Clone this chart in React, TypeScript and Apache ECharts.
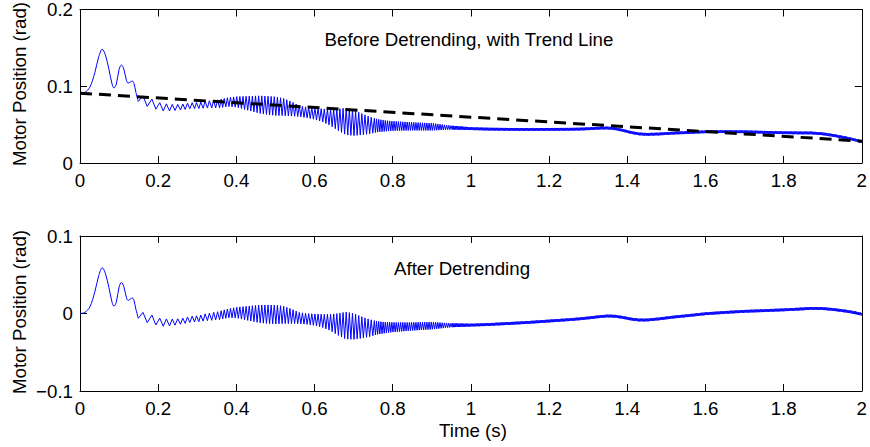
import React, { useEffect, useRef } from "react";
import * as echarts from "echarts";

// ---- axes ----
const X_MIN = 0;
const X_MAX = 2;
const X_STEP = 0.2;
const TOP_Y_MIN = 0;
const TOP_Y_MAX = 0.2;
const BOT_Y_MIN = -0.1;
const BOT_Y_MAX = 0.1;
const Y_STEP = 0.1;

// ---- texts ----
const TOP_TITLE = "Before Detrending, with Trend Line";
const BOT_TITLE = "After Detrending";
const X_NAME = "Time (s)";
const Y_NAME = "Motor Position (rad)";

// ---- detrended signal (lower panel) ----
// smooth start-up transient
const earlyT = [0, 0.006, 0.0127, 0.025, 0.038, 0.048, 0.057, 0.065, 0.074, 0.082, 0.087, 0.093, 0.1, 0.106, 0.112, 0.119, 0.123, 0.13, 0.134, 0.138, 0.143, 0.149];
const earlyV = [0, 0.0003, 0.0014, 0.0083, 0.028, 0.049, 0.059, 0.0516, 0.0334, 0.0145, 0.0094, 0.0149, 0.0341, 0.04, 0.035, 0.02, 0.017, 0.019, 0.02, 0.017, 0.0056, -0.0062];

// individual ripple extremes (chirp section)
const chirpT = [0.149, 0.161, 0.172, 0.184, 0.194, 0.204, 0.213, 0.221, 0.229, 0.236, 0.243, 0.25, 0.257, 0.263, 0.269, 0.275, 0.281, 0.287, 0.293, 0.298, 0.304, 0.309, 0.315, 0.32, 0.326, 0.331, 0.337, 0.342, 0.347, 0.352];
const chirpV = [-0.0062, 0.0015, -0.0118, -0.002, -0.0148, -0.006, -0.0165, -0.007, -0.016, -0.0072, -0.015, -0.0068, -0.0138, -0.006, -0.0128, -0.0045, -0.0115, -0.0035, -0.011, -0.003, -0.0105, -0.002, -0.0098, -0.0005, -0.0092, 0.0005, -0.0088, 0.0015, -0.0084, 0.0023];

// envelope of the dense oscillation (upper / lower extremes)
const envT = [0.357, 0.38, 0.4, 0.42, 0.44, 0.46, 0.48, 0.5, 0.52, 0.54, 0.56, 0.58, 0.6, 0.62, 0.64, 0.66, 0.68, 0.7, 0.72, 0.74, 0.76, 0.78, 0.8, 0.85, 0.9, 0.95,
  1.0, 1.05, 1.1, 1.15, 1.2, 1.25, 1.28, 1.31, 1.33, 1.35, 1.37, 1.39, 1.41, 1.43, 1.45, 1.48, 1.52, 1.56, 1.6, 1.65, 1.7, 1.75, 1.8, 1.84, 1.87, 1.9, 1.93, 1.96, 1.98, 2.0];
const envHi = [0.003, 0.0062, 0.008, 0.009, 0.01, 0.011, 0.011, 0.011, 0.0095, 0.006, 0.0015, 0.0, -0.0005, -0.001, -0.001, 0.0, 0.002, 0.0, -0.004, -0.0075, -0.01, -0.0112, -0.0115, -0.0115, -0.011, -0.0127,
  -0.0132, -0.0123, -0.011, -0.0096, -0.0079, -0.0062, -0.005, -0.0034, -0.0022, -0.0014, -0.0018, -0.0034, -0.0054, -0.0066, -0.0066, -0.0052, -0.0027, -0.0007, 0.0015, 0.0032, 0.0046, 0.0055, 0.0065, 0.0075, 0.0084, 0.0082, 0.0068, 0.0048, 0.0031, 0.0008];
const envLo = [-0.008, -0.0055, -0.0058, -0.008, -0.01, -0.012, -0.013, -0.0135, -0.013, -0.013, -0.013, -0.014, -0.0155, -0.018, -0.022, -0.028, -0.033, -0.0335, -0.032, -0.03, -0.027, -0.0255, -0.024, -0.022, -0.0205, -0.0177,
  -0.0168, -0.0159, -0.0146, -0.0132, -0.0115, -0.0098, -0.0086, -0.007, -0.0058, -0.005, -0.0054, -0.007, -0.009, -0.0102, -0.0102, -0.0088, -0.0063, -0.0043, -0.0021, -0.0004, 0.001, 0.0019, 0.0029, 0.0039, 0.0048, 0.0046, 0.0032, 0.0012, -0.0005, -0.0028];
// ripple half-period (s) read from the stripe spacing, per time band
const rippleBandEnd = [0.75, 0.95, 2.0];
const rippleHalf = [0.004, 0.0028, 0.0016];

// ---- linear trend (dashed line, upper panel) ----
const trendT = [0, 2];
const trendV = [0.091, 0.0285];

const FONT = "'Liberation Sans', Arial, Helvetica, sans-serif";
const FS = 18.7;
const BLUE = "#0000ff";

function trendAt(t: number) {
  return trendV[0] + ((trendV[1] - trendV[0]) * (t - trendT[0])) / (trendT[1] - trendT[0]);
}

function envAt(vals: number[], t: number) {
  if (t <= envT[0]) return vals[0];
  for (let i = 1; i < envT.length; i++) {
    if (t <= envT[i]) {
      const f = (t - envT[i - 1]) / (envT[i] - envT[i - 1]);
      return vals[i - 1] + f * (vals[i] - vals[i - 1]);
    }
  }
  return vals[vals.length - 1];
}

function halfAt(t: number) {
  for (let i = 0; i < rippleBandEnd.length; i++) if (t < rippleBandEnd[i]) return rippleHalf[i];
  return rippleHalf[rippleHalf.length - 1];
}

const earlyPts: number[][] = earlyT.map((t, i) => [t, earlyV[i]]);
const oscPts: number[][] = chirpT.map((t, i) => [t, chirpV[i]]);
{
  const tEnd = envT[envT.length - 1];
  let t = envT[0];
  let k = 0;
  while (t <= tEnd + 1e-9) {
    oscPts.push([t, k % 2 === 0 ? envAt(envLo, t) : envAt(envHi, t)]);
    t += halfAt(t);
    k++;
  }
}
const earlyTop = earlyPts.map(([t, v]) => [t, v + trendAt(t)]);
const oscTop = oscPts.map(([t, v]) => [t, v + trendAt(t)]);
const trendPts = trendT.map((t, i) => [t, trendV[i]]);

const fmtX = (v: number) => String(Math.round(v * 10) / 10);
const fmtY = (v: number) => {
  const r = Math.round(v * 10) / 10;
  if (r < 0) return "\u2212" + String(-r);
  return String(r);
};

function xAxis(grid: number, position: "top" | "bottom", labels: boolean) {
  return {
    type: "value",
    gridIndex: grid,
    position,
    min: X_MIN,
    max: X_MAX,
    interval: X_STEP,
    axisLine: { show: true, onZero: false, lineStyle: { color: "#000", width: 1 } },
    axisTick: { show: true, inside: true, length: 7, lineStyle: { color: "#000", width: 1 } },
    axisLabel: {
      show: labels,
      color: "#000",
      fontSize: FS,
      fontFamily: FONT,
      margin: 8,
      formatter: fmtX,
      showMinLabel: true,
      showMaxLabel: true,
    },
    splitLine: { show: false },
  };
}

function yAxis(grid: number, position: "left" | "right", labels: boolean, min: number, max: number) {
  return {
    type: "value",
    gridIndex: grid,
    position,
    min,
    max,
    interval: Y_STEP,
    axisLine: { show: true, onZero: false, lineStyle: { color: "#000", width: 1 } },
    axisTick: { show: true, inside: true, length: 7, lineStyle: { color: "#000", width: 1 } },
    axisLabel: {
      show: labels,
      color: "#000",
      fontSize: FS,
      fontFamily: FONT,
      margin: 7,
      formatter: fmtY,
      showMinLabel: true,
      showMaxLabel: true,
    },
    splitLine: { show: false },
  };
}

function lineSeries(data: number[][], xi: number, yi: number, smooth: boolean) {
  return {
    type: "line",
    xAxisIndex: xi,
    yAxisIndex: yi,
    data,
    smooth: smooth ? 0.35 : false,
    showSymbol: false,
    symbol: "none",
    silent: true,
    clip: true,
    lineStyle: { color: BLUE, width: 1 },
  };
}

export default function App() {
  const ref = useRef<HTMLDivElement>(null);
  useEffect(() => {
    if (!ref.current) return;
    const chart = echarts.init(ref.current, undefined, { renderer: "svg" });
    chart.setOption({
      animation: false,
      backgroundColor: "#fff",
      grid: [
        { left: 80, top: 8, width: 786, height: 155 },
        { left: 80, top: 236, width: 786, height: 155 },
      ],
      xAxis: [xAxis(0, "bottom", true), xAxis(0, "top", false), xAxis(1, "bottom", true), xAxis(1, "top", false)],
      yAxis: [
        yAxis(0, "left", true, TOP_Y_MIN, TOP_Y_MAX),
        yAxis(0, "right", false, TOP_Y_MIN, TOP_Y_MAX),
        yAxis(1, "left", true, BOT_Y_MIN, BOT_Y_MAX),
        yAxis(1, "right", false, BOT_Y_MIN, BOT_Y_MAX),
      ],
      series: [
        lineSeries(earlyTop, 0, 0, true),
        lineSeries(oscTop, 0, 0, false),
        {
          type: "line",
          xAxisIndex: 0,
          yAxisIndex: 0,
          data: trendPts,
          showSymbol: false,
          symbol: "none",
          silent: true,
          z: 5,
          lineStyle: { color: "#000", width: 3, type: [12, 7] },
        },
        lineSeries(earlyPts, 2, 2, true),
        lineSeries(oscPts, 2, 2, false),
      ],
      graphic: [
        {
          type: "text",
          x: 469,
          y: 39,
          style: { text: TOP_TITLE, fill: "#000", font: `${FS}px ${FONT}`, textAlign: "center", textVerticalAlign: "middle" },
        },
        {
          type: "text",
          x: 462,
          y: 268,
          style: { text: BOT_TITLE, fill: "#000", font: `${FS}px ${FONT}`, textAlign: "center", textVerticalAlign: "middle" },
        },
        {
          type: "text",
          x: 473,
          y: 430,
          style: { text: X_NAME, fill: "#000", font: `${FS}px ${FONT}`, textAlign: "center", textVerticalAlign: "middle" },
        },
        {
          type: "text",
          x: 19,
          y: 84,
          rotation: Math.PI / 2,
          style: { text: Y_NAME, fill: "#000", font: `${FS}px ${FONT}`, textAlign: "center", textVerticalAlign: "middle" },
        },
        {
          type: "text",
          x: 19,
          y: 312,
          rotation: Math.PI / 2,
          style: { text: Y_NAME, fill: "#000", font: `${FS}px ${FONT}`, textAlign: "center", textVerticalAlign: "middle" },
        },
      ],
    });
    return () => chart.dispose();
  }, []);
  return <div ref={ref} style={{ position: "fixed", left: 0, top: 0, width: 870, height: 447 }} />;
}
